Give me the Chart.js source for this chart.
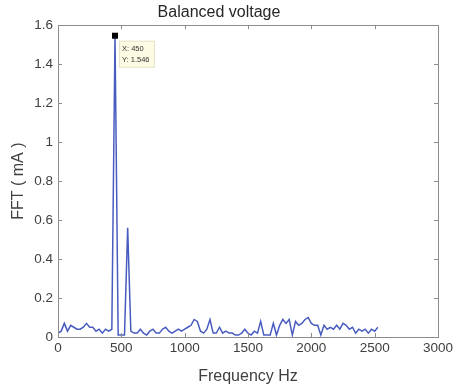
<!DOCTYPE html>
<html>
<head>
<meta charset="utf-8">
<script src="https://cdn.jsdelivr.net/npm/chart.js@4/dist/chart.umd.min.js"></script>
<style>
  html, body { margin: 0; padding: 0; background: #fff; }
  #wrap { width: 458px; height: 391px; position: relative; }
</style>
</head>
<body>
<div id="wrap"><canvas id="fftChart"></canvas></div>
<script>
// frequency bins (Hz)
var freqs = [
  0, 25, 50, 75, 100, 125, 150, 175, 200, 225, 250, 275, 300, 325, 350, 375, 400, 425,
  450, 475, 500, 525, 550, 575, 600, 625, 650, 675, 700, 725, 750, 775, 800, 825, 850, 875,
  900, 925, 950, 975, 1000, 1025, 1050, 1075, 1100, 1125, 1150, 1175, 1200, 1225, 1250, 1275,
  1300, 1325, 1350, 1375, 1400, 1425, 1450, 1475, 1500, 1525, 1550, 1575, 1600, 1625, 1650, 1675,
  1700, 1725, 1750, 1775, 1800, 1825, 1850, 1875, 1900, 1925, 1950, 1975, 2000, 2025, 2050, 2075,
  2100, 2125, 2150, 2175, 2200, 2225, 2250, 2275, 2300, 2325, 2350, 2375, 2400, 2425, 2450, 2475,
  2500, 2525
];
// FFT magnitude (mA)
var fftValues = [
  0.02, 0.03, 0.07, 0.03, 0.06, 0.05, 0.04, 0.04, 0.05, 0.07, 0.05, 0.05, 0.03, 0.04, 0.02, 0.04, 0.03, 0.04,
  1.546, 0.01, 0.01, 0.01, 0.56, 0.03, 0.02, 0.02, 0.04, 0.02, 0.01, 0.03, 0.04, 0.02, 0.02, 0.04, 0.05, 0.03,
  0.02, 0.03, 0.04, 0.03, 0.04, 0.05, 0.06, 0.09, 0.08, 0.03, 0.02, 0.04, 0.09, 0.02, 0.02, 0.05,
  0.02, 0.03, 0.02, 0.02, 0.01, 0.01, 0.02, 0.04, 0.02, 0.01, 0.03, 0.02, 0.08, 0.01, 0.01, 0.01,
  0.07, 0.01, 0.06, 0.09, 0.07, 0.09, 0.01, 0.08, 0.06, 0.07, 0.09, 0.10, 0.07, 0.06, 0.06, 0.01,
  0.06, 0.04, 0.05, 0.04, 0.06, 0.04, 0.07, 0.06, 0.04, 0.05, 0.02, 0.04, 0.03, 0.04, 0.02, 0.04,
  0.03, 0.05
];
var xTicks = [0, 500, 1000, 1500, 2000, 2500, 3000];
var yTicks = [0, 0.2, 0.4, 0.6, 0.8, 1, 1.2, 1.4, 1.6];
var tipX = 450;
var tipY = 1.546;

var points = [];
for (var i = 0; i < freqs.length; i++) {
  points.push({ x: freqs[i], y: fftValues[i] });
}

var axisColor = "#8c8c8c";
var textColor = "#404040";
var fontFam = "'Liberation Sans', Arial, Helvetica, sans-serif";

// MATLAB-like box with inward ticks, plus the data tip
var boxPlugin = {
  id: "boxPlugin",
  afterDatasetsDraw: function (chart) {
    var ctx = chart.ctx;
    var a = chart.chartArea;
    var xs = chart.scales.x, ys = chart.scales.y;
    ctx.save();
    ctx.strokeStyle = axisColor;
    ctx.lineWidth = 1;
    ctx.strokeRect(Math.round(a.left) + 0.5, Math.round(a.top) + 0.5,
      Math.round(a.right - a.left), Math.round(a.bottom - a.top));
    ctx.beginPath();
    xTicks.forEach(function (v) {
      var px = Math.round(xs.getPixelForValue(v)) + 0.5;
      ctx.moveTo(px, a.bottom); ctx.lineTo(px, a.bottom - 4);
      ctx.moveTo(px, a.top); ctx.lineTo(px, a.top + 4);
    });
    yTicks.forEach(function (v) {
      var py = Math.round(ys.getPixelForValue(v)) + 0.5;
      ctx.moveTo(a.left, py); ctx.lineTo(a.left + 4, py);
      ctx.moveTo(a.right, py); ctx.lineTo(a.right - 4, py);
    });
    ctx.stroke();

    // data tip
    var mx = xs.getPixelForValue(tipX);
    var my = ys.getPixelForValue(tipY);
    ctx.fillStyle = "#000";
    ctx.fillRect(mx - 3, my - 3, 6, 6);
    var bx = mx + 4, by = my + 5, bw = 36, bh = 27;
    ctx.fillStyle = "#fdfbe3";
    ctx.fillRect(bx, by, bw, bh);
    ctx.strokeStyle = "#e6e2c8";
    ctx.strokeRect(bx + 0.5, by + 0.5, bw - 1, bh - 1);
    ctx.fillStyle = "#333";
    ctx.font = "7.5px " + fontFam;
    ctx.textBaseline = "middle";
    ctx.fillText("X: " + tipX, bx + 3, by + 8);
    ctx.fillText("Y: " + tipY.toFixed(3).replace(".", "."), bx + 3, by + 19);
    ctx.restore();
  }
};

new Chart(document.getElementById("fftChart"), {
  type: "line",
  data: {
    datasets: [{
      data: points,
      borderColor: "rgb(72, 92, 192)",
      borderWidth: 1.5,
      pointRadius: 0,
      tension: 0,
      fill: false
    }]
  },
  options: {
    responsive: true,
    maintainAspectRatio: false,
    animation: false,
    layout: { padding: { left: 0, right: 20, top: 0, bottom: 0 } },
    plugins: {
      legend: { display: false },
      tooltip: { enabled: false },
      title: {
        display: true,
        text: "Balanced voltage",
        color: "#262626",
        font: { family: fontFam, size: 16, weight: "normal" },
        padding: { top: 3, bottom: 3 }
      }
    },
    scales: {
      x: {
        type: "linear",
        min: 0,
        max: 3000,
        afterBuildTicks: function (scale) {
          scale.ticks = xTicks.map(function (v) { return { value: v }; });
        },
        afterFit: function (scale) { scale.height = 54; },
        grid: { display: false, drawTicks: false },
        border: { display: false },
        ticks: {
          color: textColor,
          font: { family: fontFam, size: 13.5 },
          padding: 3,
          maxRotation: 0,
          callback: function (v) { return String(v); }
        },
        title: {
          display: true,
          text: "Frequency Hz",
          color: textColor,
          font: { family: fontFam, size: 16 },
          padding: { top: 0, bottom: 5 }
        }
      },
      y: {
        min: 0,
        max: 1.6,
        afterBuildTicks: function (scale) {
          scale.ticks = yTicks.map(function (v) { return { value: v }; });
        },
        afterFit: function (scale) { scale.width = 58; },
        grid: { display: false, drawTicks: false },
        border: { display: false },
        ticks: {
          color: textColor,
          font: { family: fontFam, size: 13.5 },
          padding: 5,
          callback: function (v) { return String(Math.round(v * 10) / 10); }
        },
        title: {
          display: true,
          text: "FFT ( mA )",
          color: textColor,
          font: { family: fontFam, size: 16 },
          padding: { top: 9, bottom: 0 }
        }
      }
    }
  },
  plugins: [boxPlugin]
});
</script>
</body>
</html>
